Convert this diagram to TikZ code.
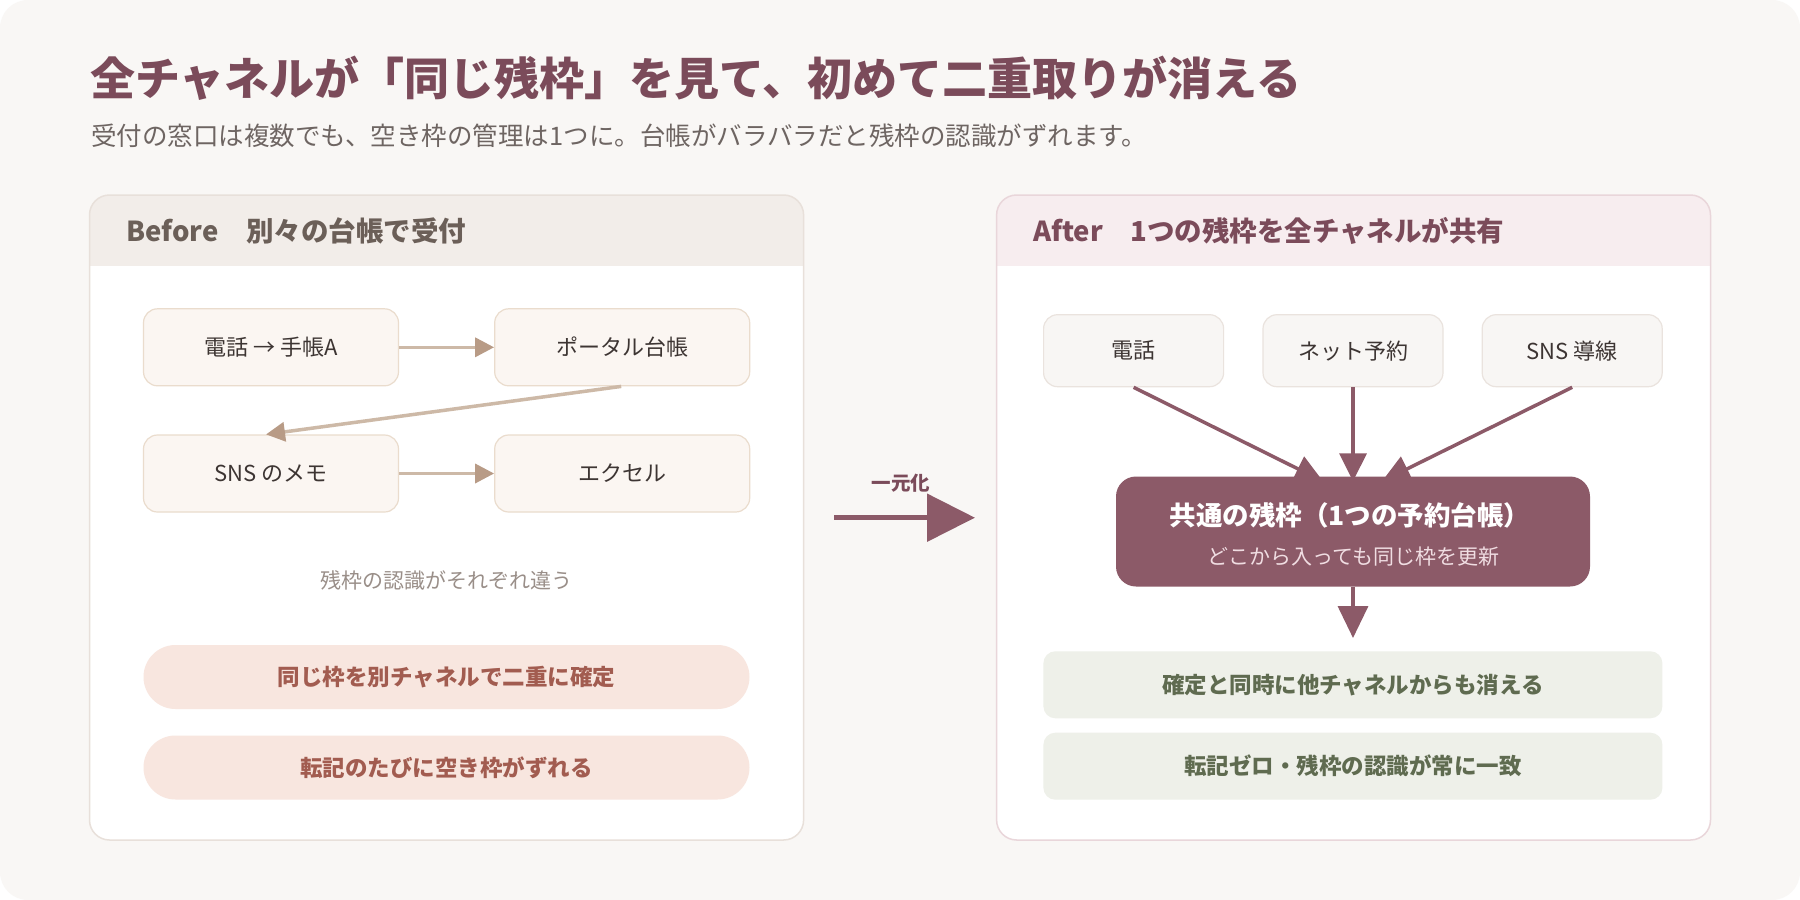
\documentclass[tikz,border=0pt]{standalone}
\usepackage{fontspec}
\usetikzlibrary{arrows.meta,positioning,calc}
\newfontfamily\jp{Noto Sans CJK JP}
\definecolor{cardbg}{HTML}{F9F7F5}
\definecolor{titlec}{HTML}{7B4B5A}
\definecolor{subc}{HTML}{6E6562}
\definecolor{lhfill}{HTML}{F2EDE9}
\definecolor{lhtext}{HTML}{6B5F58}
\definecolor{lborder}{HTML}{E8E0DA}
\definecolor{rhfill}{HTML}{F7EDEF}
\definecolor{rborder}{HTML}{E9D6DA}
\definecolor{lboxfill}{HTML}{FBF6F2}
\definecolor{lboxdraw}{HTML}{EADCCD}
\definecolor{larrow}{HTML}{CDB9A7}
\definecolor{lhead}{HTML}{B89B86}
\definecolor{pillfill}{HTML}{F8E6DF}
\definecolor{pilltext}{HTML}{A25C50}
\definecolor{notec}{HTML}{9A8F89}
\definecolor{plum}{HTML}{8C5A68}
\definecolor{plumsub}{HTML}{F0DDE2}
\definecolor{rboxfill}{HTML}{F8F6F4}
\definecolor{rboxdraw}{HTML}{EAE3DE}
\definecolor{greenfill}{HTML}{EEF0E9}
\definecolor{greentext}{HTML}{5F6B50}
\definecolor{textc}{HTML}{3D3533}
\tikzset{
  lbox/.style={draw=lboxdraw, line width=1.2pt, fill=lboxfill, rounded corners=14pt,
    minimum width=255pt, minimum height=77pt, inner sep=0pt,
    font=\jp\fontsize{22}{22}\selectfont, text=textc},
  rbox/.style={draw=rboxdraw, line width=1.2pt, fill=rboxfill, rounded corners=14pt,
    minimum width=180pt, minimum height=72pt, inner sep=0pt,
    font=\jp\fontsize{22}{22}\selectfont, text=textc},
  pill/.style={fill=pillfill, rounded corners=32pt, minimum width=606pt, minimum height=64pt,
    inner sep=0pt, font=\jp\bfseries\fontsize{22.5}{22.5}\selectfont, text=pilltext},
  gbox/.style={fill=greenfill, rounded corners=12pt, minimum width=619pt, minimum height=67pt,
    inner sep=0pt, font=\jp\bfseries\fontsize{22.5}{22.5}\selectfont, text=greentext},
  larr/.style={draw=larrow, line width=3.5pt, -{Triangle[length=19pt,width=19pt,fill=lhead,color=lhead]}},
  parr/.style={draw=plum, line width=3.5pt, -{Triangle[length=28pt,width=27pt]}},
  hdr/.style={anchor=west, inner sep=0pt, font=\jp\bfseries\fontsize{27.5}{27.5}\selectfont},
}
\begin{document}
\begin{tikzpicture}[x=1pt,y=-1pt]
\useasboundingbox (0,0) rectangle (1800,900);
\fill[white] (0,0) rectangle (1800,900);
\fill[cardbg, rounded corners=28pt] (0,0) rectangle (1800,900);

% title
\node[anchor=west, inner sep=0pt, font=\jp\bfseries\fontsize{45}{45}\selectfont, text=titlec] (title) at (90,78)
  {全チャネルが「同じ残枠」を見て、初めて二重取りが消える};
\node[anchor=west, inner sep=0pt, font=\jp\fontsize{25.5}{25.5}\selectfont, text=subc] (subtitle) at (91,135.5)
  {受付の窓口は複数でも、空き枠の管理は1つに。台帳がバラバラだと残枠の認識がずれます。};

% left panel
\fill[white, rounded corners=20pt] (89.5,195) rectangle (803.6,840);
\begin{scope}
  \clip[rounded corners=20pt] (89.5,195) rectangle (803.6,840);
  \fill[lhfill] (89.5,195) rectangle (803.6,266);
\end{scope}
\draw[lborder, line width=1.5pt, rounded corners=20pt] (89.5,195) rectangle (803.6,840);
\node[hdr, text=lhtext] (lhead) at (126,231) {Before　別々の台帳で受付};

\node[lbox] (b1) at (271,347.3) {電話 → 手帳A};
\node[lbox] (b2) at (622.2,347.3) {ポータル台帳};
\node[lbox] (b3) at (271,473.5) {SNS のメモ};
\node[lbox] (b4) at (622.2,473.5) {エクセル};
\draw[larr] (b1.east) -- (b2.west);
\draw[larr] ([xshift=-1pt]b2.south) -- ([xshift=-5pt]b3.north);
\draw[larr] (b3.east) -- (b4.west);

\node[inner sep=0pt, font=\jp\fontsize{21}{21}\selectfont, text=notec] (note) at (446.6,580) {残枠の認識がそれぞれ違う};
\node[pill] (p1) at (446.5,677) {同じ枠を別チャネルで二重に確定};
\node[pill] (p2) at (446.5,767.5) {転記のたびに空き枠がずれる};

% middle arrow
\coordinate (ma) at (834,517.7);
\coordinate (mb) at (975,517.7);
\draw[plum, line width=5.5pt, -{Triangle[length=48pt,width=47pt]}] (ma) -- (mb);
\node[inner sep=0pt, font=\jp\bfseries\fontsize{19.5}{19.5}\selectfont, text=titlec] (mlabel) at (901,483) {一元化};

% right panel
\fill[white, rounded corners=20pt] (996.6,195) rectangle (1710.5,840);
\begin{scope}
  \clip[rounded corners=20pt] (996.6,195) rectangle (1710.5,840);
  \fill[rhfill] (996.6,195) rectangle (1710.5,266);
\end{scope}
\draw[rborder, line width=1.5pt, rounded corners=20pt] (996.6,195) rectangle (1710.5,840);
\node[hdr, text=titlec] (rhead) at (1033,231) {After　1つの残枠を全チャネルが共有};

\node[rbox] (t1) at (1133.6,350.7) {電話};
\node[rbox] (t2) at (1353,350.7) {ネット予約};
\node[rbox] (t3) at (1572.2,350.7) {SNS 導線};

\node[fill=plum, rounded corners=20pt, minimum width=474pt, minimum height=110pt, inner sep=0pt] (cbox) at (1353,531.5) {};
\node[inner sep=0pt, font=\jp\bfseries\fontsize{26.5}{26.5}\selectfont, text=white] (ctitle) at (1350,515.5) {共通の残枠（1つの予約台帳）};
\node[inner sep=0pt, font=\jp\fontsize{21}{21}\selectfont, text=plumsub] (csub) at (1353.5,556.8) {どこから入っても同じ枠を更新};

\draw[parr] (t1.south) -- ([shift={(-30pt,-5pt)}]cbox.north);
\draw[parr] (t2.south) -- ([shift={(0pt,-5pt)}]cbox.north);
\draw[parr] (t3.south) -- ([shift={(29pt,-5pt)}]cbox.north);

\node[gbox] (g1) at (1352.9,684.8) {確定と同時に他チャネルからも消える};
\node[gbox] (g2) at (1352.9,766.2) {転記ゼロ・残枠の認識が常に一致};
\coordinate (dend) at (1353,638);
\draw[plum, line width=3.5pt, -{Triangle[length=32pt,width=30pt]}] (cbox.south) -- (dend);
\end{tikzpicture}
\end{document}
